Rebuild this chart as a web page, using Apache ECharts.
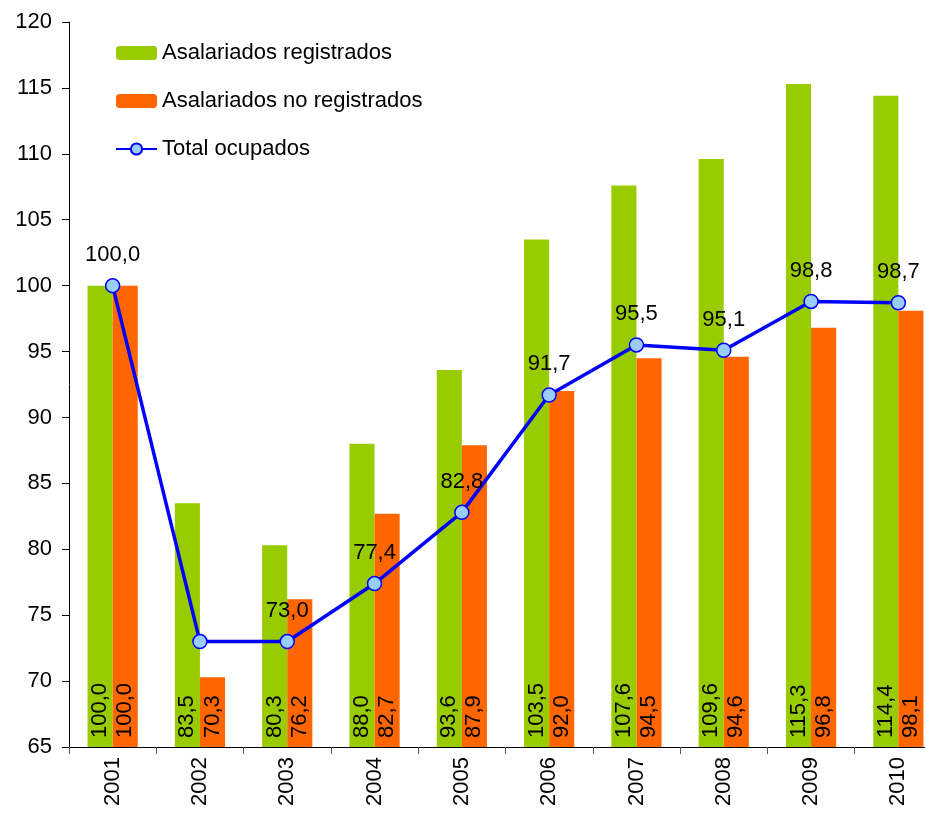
<!DOCTYPE html>
<html><head><meta charset="utf-8">
<script src="https://cdn.jsdelivr.net/npm/echarts@6/dist/echarts.min.js"></script>
<style>html,body{margin:0;padding:0;background:#fff}#c{width:925px;height:813px}</style>
</head><body><div id="c"></div>
<script>
const categories = ['2001','2002','2003','2004','2005','2006','2007','2008','2009','2010'];
const registrados = [100.0,83.5,80.3,88.0,93.6,103.5,107.6,109.6,115.3,114.4];
const noRegistrados = [100.0,70.3,76.2,82.7,87.9,92.0,94.5,94.6,96.8,98.1];
const totalOcupados = [100.0,73.0,73.0,77.4,82.8,91.7,95.5,95.1,98.8,98.7];
const hiddenLineLabels = ['2002'];
const seriesNames = ['Asalariados registrados','Asalariados no registrados','Total ocupados'];

const fmt = v => Number(v).toFixed(1).replace('.', ',');
const font = 'Liberation Sans, Arial, sans-serif';
const barLabel = {
  show: true, position: 'insideBottom', rotate: 90, align: 'left', verticalAlign: 'middle',
  distance: 9, color: '#000', fontSize: 22, fontFamily: font,
  formatter: p => fmt(p.value)
};
const lineData = totalOcupados.map((v, i) =>
  hiddenLineLabels.includes(categories[i]) ? {value: v, label: {show: false}} : v);
const chart = echarts.init(document.getElementById('c'), null, {renderer: 'canvas'});
chart.setOption({
  animation: false,
  backgroundColor: '#fff',
  grid: {left: 69, top: 22, width: 873, height: 725, containLabel: false, outerBoundsMode: 'none'},
  legend: {
    orient: 'vertical', left: 110, top: 37, itemWidth: 41, itemHeight: 14, itemGap: 26,
    textStyle: {fontSize: 22, fontFamily: font, color: '#000'},
    data: seriesNames
  },
  xAxis: {
    type: 'category', data: categories,
    axisLine: {lineStyle: {color: '#000', width: 1}},
    axisTick: {show: true, alignWithLabel: false, length: 7, lineStyle: {color: '#555'}},
    axisLabel: {rotate: 90, fontSize: 22, fontFamily: font, color: '#000', margin: 10}
  },
  yAxis: {
    type: 'value', min: 65, max: 120, interval: 5,
    splitLine: {show: false},
    axisLine: {show: true, lineStyle: {color: '#000', width: 1}},
    axisTick: {show: true, length: 7, lineStyle: {color: '#000'}},
    axisLabel: {fontSize: 22, fontFamily: font, color: '#000', margin: 17}
  },
  series: [
    {name: seriesNames[0], type: 'bar', data: registrados, barGap: '0%', barCategoryGap: '42.5%',
     itemStyle: {color: '#99cc00'}, label: barLabel},
    {name: seriesNames[1], type: 'bar', data: noRegistrados,
     itemStyle: {color: '#ff6600'}, label: barLabel},
    {name: seriesNames[2], type: 'line', data: lineData,
     symbol: 'circle', symbolSize: 14,
     lineStyle: {color: '#0000ff', width: 3.5},
     itemStyle: {color: '#99ccff', borderColor: '#0000ff', borderWidth: 1.5},
     label: {show: true, position: 'top', distance: 12, fontSize: 22, fontFamily: font, color: '#000', formatter: p => fmt(p.value)},
     z: 5}
  ]
});
</script></body></html>
